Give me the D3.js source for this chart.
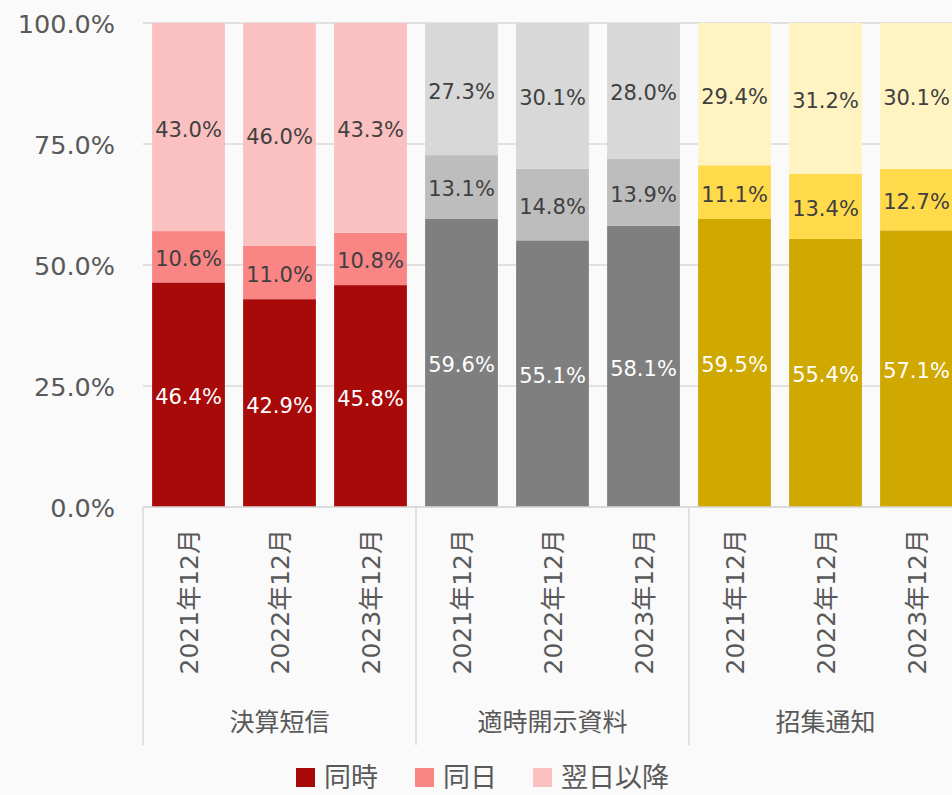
<!DOCTYPE html>
<html>
<head>
<meta charset="utf-8">
<script src="https://cdn.jsdelivr.net/npm/d3@7"></script>
<style>
  html, body { margin: 0; padding: 0; background: #fafafa; }
  svg { display: block; }
</style>
</head>
<body>
<svg id="chart" width="952" height="795"></svg>
<script>
// ---- data ----
const groups = ["決算短信", "適時開示資料", "招集通知"];
const periods = ["2021年12月", "2022年12月", "2023年12月"];
const seriesNames = ["同時", "同日", "翌日以降"];
const simultaneous = [46.4, 42.9, 45.8, 59.6, 55.1, 58.1, 59.5, 55.4, 57.1];
const sameDay      = [10.6, 11.0, 10.8, 13.1, 14.8, 13.9, 11.1, 13.4, 12.7];
const nextDayLater = [43.0, 46.0, 43.3, 27.3, 30.1, 28.0, 29.4, 31.2, 30.1];
const yTicks = [0, 0.25, 0.5, 0.75, 1.0];

// ---- styles ----
const palette = [
  ["#A80A0A", "#F98585", "#FBC0C0"],
  ["#7F7F7F", "#BDBDBD", "#D8D8D8"],
  ["#CFA800", "#FFDA4A", "#FFF3C2"]
];
const font = "'DejaVu Sans', 'Noto Sans CJK JP', sans-serif";

const rows = [];
groups.forEach((g, gi) => periods.forEach((p, pi) => {
  const i = gi * periods.length + pi;
  rows.push({ key: i, group: g, gi, period: p,
    v: [simultaneous[i], sameDay[i], nextDayLater[i]] });
}));

const svg = d3.select("#chart");
const pLeft = 143, pRight = 962, pTop = 23, pBottom = 507;

const x = d3.scaleBand().domain(rows.map(d => d.key)).range([pLeft, pRight])
  .paddingInner(0.2).paddingOuter(0.1);
const y = d3.scaleLinear().domain([0, 1]).range([pBottom, pTop]);

// gridlines
svg.append("g").selectAll("line").data(yTicks).join("line")
  .attr("x1", pLeft).attr("x2", pRight)
  .attr("y1", d => y(d)).attr("y2", d => y(d))
  .attr("stroke", "#d9d9d9").attr("stroke-width", 1.5);

// y axis labels
const yAxis = d3.axisLeft(y).tickValues(yTicks).tickSize(0).tickPadding(0)
  .tickFormat(d3.format(".1%"));
const ya = svg.append("g").attr("transform", `translate(115,0)`).call(yAxis);
ya.select(".domain").remove();
ya.selectAll("text").attr("font-family", font).attr("font-size", 25.5)
  .attr("fill", "#595959").attr("dy", "0.36em").attr("text-anchor", "end");

// stacked bars
rows.forEach(r => {
  const total = d3.sum(r.v);
  let acc = 0;
  r.segs = r.v.map((v, si) => {
    const s = { y0: acc / total, y1: (acc + v) / total, v, si };
    acc += v;
    return s;
  });
});

const barG = svg.append("g").selectAll("g").data(rows).join("g");
barG.selectAll("rect").data(r => r.segs.map(s => ({ ...s, r }))).join("rect")
  .attr("x", d => x(d.r.key))
  .attr("width", x.bandwidth())
  .attr("y", d => y(d.y1))
  .attr("height", d => y(d.y0) - y(d.y1))
  .attr("fill", d => palette[d.r.gi][d.si]);

barG.selectAll("text").data(r => r.segs.map(s => ({ ...s, r }))).join("text")
  .attr("x", d => x(d.r.key) + x.bandwidth() / 2)
  .attr("y", d => (y(d.y0) + y(d.y1)) / 2)
  .attr("dy", "0.45em")
  .attr("text-anchor", "middle")
  .attr("font-family", font).attr("font-size", 21)
  .attr("fill", d => d.si === 0 ? "#ffffff" : "#404040")
  .text(d => d.v.toFixed(1) + "%");

// axis baseline
svg.append("line").attr("x1", pLeft).attr("x2", pRight)
  .attr("y1", pBottom).attr("y2", pBottom)
  .attr("stroke", "#d9d9d9").attr("stroke-width", 1.5);

// group separators
const sepX = [0, 3, 6, 9].map(i => i < 9 ? x(i) - x.step() * x.paddingOuter() : pRight);
svg.append("g").selectAll("line").data(sepX).join("line")
  .attr("x1", d => d).attr("x2", d => d)
  .attr("y1", pBottom).attr("y2", 745)
  .attr("stroke", "#d9d9d9").attr("stroke-width", 1.5);

// rotated period labels
svg.append("g").selectAll("text").data(rows).join("text")
  .attr("transform", d => `translate(${x(d.key) + x.bandwidth() / 2 + 1},529) rotate(-90)`)
  .attr("dy", "0.35em")
  .attr("text-anchor", "end")
  .attr("font-family", font).attr("font-size", 25)
  .attr("fill", "#595959")
  .text(d => d.period);

// group labels
svg.append("g").selectAll("text").data(groups).join("text")
  .attr("x", (g, gi) => (x(gi * 3) + x(gi * 3 + 2) + x.bandwidth()) / 2)
  .attr("y", 722).attr("dy", "0.36em")
  .attr("text-anchor", "middle")
  .attr("font-family", font).attr("font-size", 25)
  .attr("fill", "#595959")
  .text(d => d);

// legend
const legendX = [296, 415, 533];
const lg = svg.append("g").selectAll("g").data(seriesNames).join("g")
  .attr("transform", (d, i) => `translate(${legendX[i]},768)`);
lg.append("rect").attr("width", 19).attr("height", 19)
  .attr("fill", (d, i) => palette[0][i]);
lg.append("text").attr("x", 28).attr("y", 9.5).attr("dy", "0.36em")
  .attr("font-family", font).attr("font-size", 27)
  .attr("fill", "#595959").text(d => d);
</script>
</body>
</html>
